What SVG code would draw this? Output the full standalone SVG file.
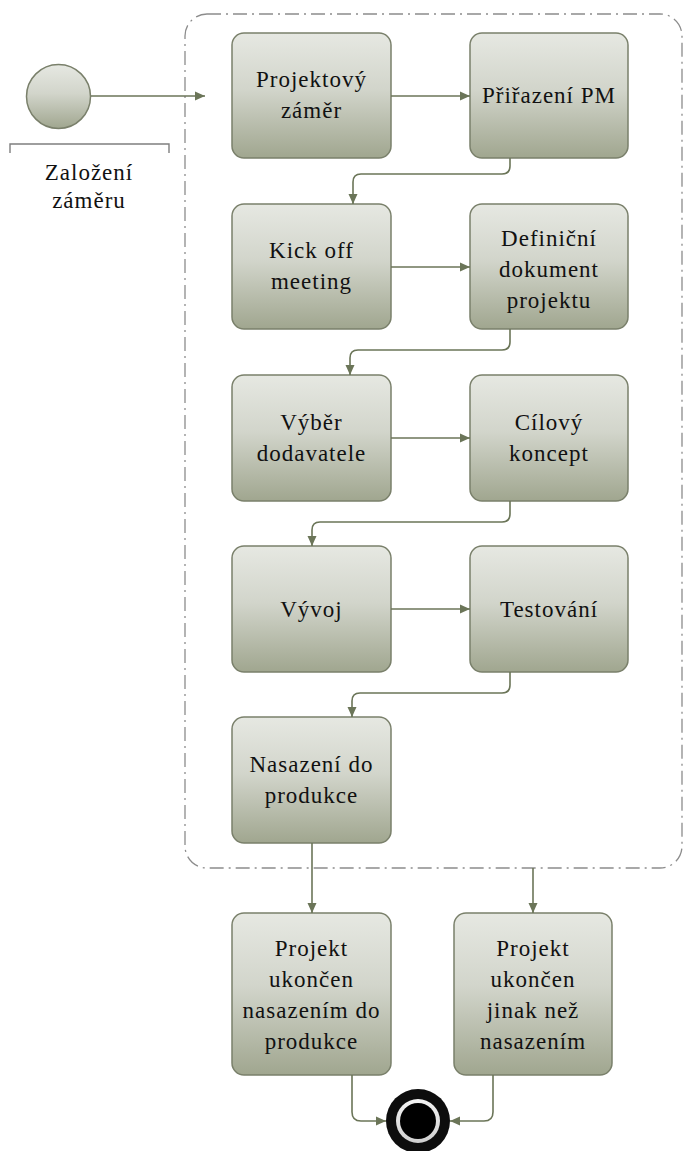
<svg xmlns="http://www.w3.org/2000/svg" width="683" height="1151" viewBox="0 0 683 1151">
  <defs>
    <linearGradient id="boxFill" x1="0" y1="0" x2="0" y2="1">
      <stop offset="0" stop-color="#e6e8e2"/>
      <stop offset="0.45" stop-color="#d2d5cb"/>
      <stop offset="1" stop-color="#a0a68f"/>
    </linearGradient>
    <linearGradient id="ringFill" x1="0" y1="0" x2="0" y2="1">
      <stop offset="0" stop-color="#f4f4f4"/>
      <stop offset="1" stop-color="#cfcfcf"/>
    </linearGradient>
    <marker id="arrow" viewBox="0 0 10 10" refX="10" refY="5" markerWidth="10" markerHeight="10" markerUnits="userSpaceOnUse" orient="auto">
      <path d="M0,0.5 L10,5 L0,9.5 z" fill="#6b7558"/>
    </marker>
    <style>
      .box { fill: url(#boxFill); stroke: #7a806b; stroke-width: 1.5; }
      .lbl { font-family: "Liberation Serif", "Times New Roman", "DejaVu Serif", serif; font-size: 23px; letter-spacing: 1px; fill: #111; text-anchor: middle; }
      .conn { fill: none; stroke: #6b7558; stroke-width: 1.6; marker-end: url(#arrow); }
      .frame { fill: none; stroke: #8c8c8c; stroke-width: 1.3; stroke-dasharray: 14 5 2 5; }
      .bracket { fill: none; stroke: #7f7f7f; stroke-width: 1.4; }
    </style>
  </defs>

  <!-- project phase container -->
  <rect id="container" class="frame" x="185" y="14" width="497" height="854" rx="22" ry="22"/>

  <!-- start event -->
  <g id="start">
    <circle cx="58.5" cy="96.5" r="32" fill="url(#boxFill)" stroke="#7a806b" stroke-width="1.5"/>
    <path class="bracket" d="M10,153 V144 H169 V153"/>
    <text class="lbl" x="89" y="180" font-family="Liberation Serif, serif">Založení</text>
    <text class="lbl" x="89" y="208" font-family="Liberation Serif, serif">záměru</text>
  </g>

  <!-- activities -->
  <g id="n-zamer">
    <rect class="box" x="232" y="33" width="159" height="125" rx="12"/>
    <text class="lbl" x="311.5" y="87">Projektový</text>
    <text class="lbl" x="311.5" y="118">záměr</text>
  </g>
  <g id="n-prirazeni">
    <rect class="box" x="470" y="33" width="158" height="125" rx="12"/>
    <text class="lbl" x="549" y="103">Přiřazení PM</text>
  </g>
  <g id="n-kickoff">
    <rect class="box" x="232" y="204" width="159" height="125" rx="12"/>
    <text class="lbl" x="311.5" y="258">Kick off</text>
    <text class="lbl" x="311.5" y="289">meeting</text>
  </g>
  <g id="n-definicni">
    <rect class="box" x="470" y="204" width="158" height="125" rx="12"/>
    <text class="lbl" x="549" y="246">Definiční</text>
    <text class="lbl" x="549" y="277">dokument</text>
    <text class="lbl" x="549" y="308">projektu</text>
  </g>
  <g id="n-vyber">
    <rect class="box" x="232" y="375" width="159" height="126" rx="12"/>
    <text class="lbl" x="311.5" y="430">Výběr</text>
    <text class="lbl" x="311.5" y="461">dodavatele</text>
  </g>
  <g id="n-cilovy">
    <rect class="box" x="470" y="375" width="158" height="126" rx="12"/>
    <text class="lbl" x="549" y="430">Cílový</text>
    <text class="lbl" x="549" y="461">koncept</text>
  </g>
  <g id="n-vyvoj">
    <rect class="box" x="232" y="546" width="159" height="126" rx="12"/>
    <text class="lbl" x="311.5" y="617">Vývoj</text>
  </g>
  <g id="n-testovani">
    <rect class="box" x="470" y="546" width="158" height="126" rx="12"/>
    <text class="lbl" x="549" y="617">Testování</text>
  </g>
  <g id="n-nasazeni">
    <rect class="box" x="232" y="717" width="159" height="126" rx="12"/>
    <text class="lbl" x="311.5" y="772">Nasazení do</text>
    <text class="lbl" x="311.5" y="803">produkce</text>
  </g>

  <!-- outcomes -->
  <g id="n-ukonceno-nasazenim">
    <rect class="box" x="232" y="913" width="159" height="162" rx="12"/>
    <text class="lbl" x="311.5" y="956">Projekt</text>
    <text class="lbl" x="311.5" y="987">ukončen</text>
    <text class="lbl" x="311.5" y="1018">nasazením do</text>
    <text class="lbl" x="311.5" y="1049">produkce</text>
  </g>
  <g id="n-ukonceno-jinak">
    <rect class="box" x="454" y="913" width="158" height="162" rx="12"/>
    <text class="lbl" x="533" y="956">Projekt</text>
    <text class="lbl" x="533" y="987">ukončen</text>
    <text class="lbl" x="533" y="1018">jinak než</text>
    <text class="lbl" x="533" y="1049">nasazením</text>
  </g>

  <!-- end event -->
  <g id="end">
    <circle cx="418" cy="1121" r="32" fill="#0d0d0d"/>
    <circle cx="418" cy="1121" r="22" fill="url(#ringFill)"/>
    <circle cx="418" cy="1121" r="18" fill="#000"/>
  </g>

  <!-- connectors -->
  <g id="connectors">
    <path class="conn" d="M91,96 H205"/>
    <path class="conn" d="M391,96 H470"/>
    <path class="conn" d="M510,158 V166 Q510,174 502,174 H361 Q353,174 353,182 V204"/>
    <path class="conn" d="M391,267 H470"/>
    <path class="conn" d="M510,329 V342 Q510,350 502,350 H358 Q350,350 350,358 V375"/>
    <path class="conn" d="M391,438 H470"/>
    <path class="conn" d="M510,501 V514 Q510,522 502,522 H320 Q312,522 312,530 V546"/>
    <path class="conn" d="M391,609 H470"/>
    <path class="conn" d="M510,672 V685 Q510,693 502,693 H360 Q352,693 352,701 V717"/>
    <path class="conn" d="M312,843 V913"/>
    <path class="conn" d="M533,868 V913"/>
    <path class="conn" d="M352,1075 V1112 Q352,1121 361,1121 H386"/>
    <path class="conn" d="M493,1075 V1112 Q493,1121 484,1121 H450"/>
  </g>
</svg>
